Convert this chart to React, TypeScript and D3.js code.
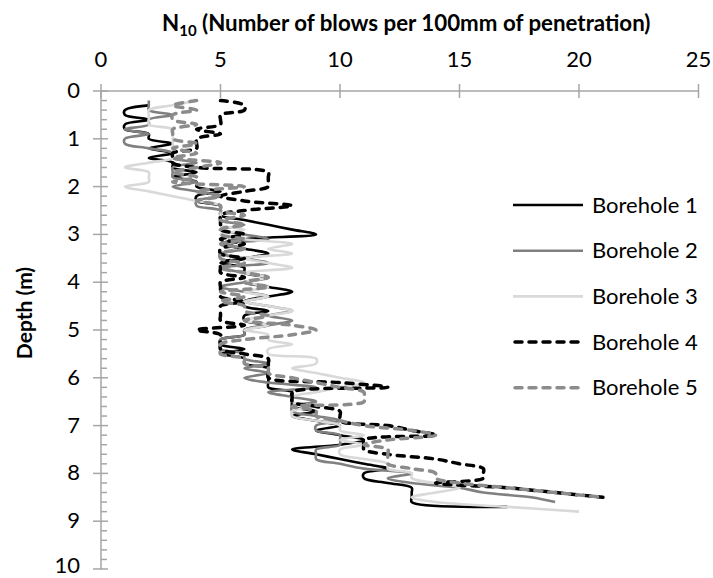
import React from 'react';
import * as d3 from 'd3';

const WIDTH = 713;
const HEIGHT = 578;

// Axis ticks
const xTickValues = [0, 5, 10, 15, 20, 25];
const yTickValues = [0, 1, 2, 3, 4, 5, 6, 7, 8, 9, 10];

// N10 readings, one per 100 mm of penetration
const DEPTH_STEP = 0.1;

const borehole1Start = 0.3;
const borehole1 = [
  2, 1, 1, 2, 1, 1, 2, 2, 3, 2,
  3, 2, 3, 3, 4, 3, 4, 4, 5, 4,
  4, 5, 5, 5, 6, 7, 8, 9, 6, 5,
  6, 7, 6, 5, 6, 6, 7, 6, 7, 8,
  7, 6, 6, 7, 6, 6, 7, 6, 6, 5,
  5, 6, 5, 6, 6, 7, 7, 7, 7, 7,
  8, 8, 8, 8, 9, 8, 9, 10, 9, 10,
  11, 10, 8, 9, 10, 11, 12, 11, 11, 12,
  13, 13, 13, 13, 17,
];

const borehole2Start = 0.2;
const borehole2 = [
  2, 2, 2, 3, 2, 2, 1, 2, 1, 1,
  2, 3, 3, 4, 3, 3, 3, 4, 3, 4,
  5, 4, 4, 5, 5, 5, 6, 5, 6, 7,
  5, 6, 5, 6, 7, 5, 6, 7, 6, 5,
  6, 7, 6, 7, 8, 7, 8, 7, 6, 6,
  5, 5, 5, 6, 6, 7, 6, 7, 6, 7,
  9, 7, 8, 9, 8, 8, 9, 10, 9, 9,
  10, 10, 10, 9, 9, 9, 10, 11, 13, 12,
  13, 15, 16, 18, 19,
];

const borehole3Start = 0.2;
const borehole3 = [
  4, 3, 2, 2, 2, 2, 3, 3, 3, 3,
  3, 3, 3, 2, 1, 2, 2, 2, 1, 2,
  3, 4, 5, 5, 5, 5, 5, 6, 5, 6,
  8, 7, 8, 6, 7, 8, 6, 7, 6, 7,
  6, 7, 6, 7, 8, 7, 6, 7, 6, 7,
  7, 8, 7, 7, 9, 9, 8, 9, 10, 11,
  10, 9, 8, 8, 9, 8, 8, 9, 10, 10,
  11, 10, 11, 10, 10, 11, 12, 12, 13, 13,
  14, 15, 14, 13, 14, 17, 20,
];

const borehole4Start = 0.2;
const borehole4 = [
  5, 6, 6, 5, 5, 5, 4, 5, 4, 4,
  4, 3, 3, 3, 4, 7, 7, 7, 7, 6,
  5, 6, 8, 6, 5, 5, 5, 5, 6, 5,
  6, 5, 5, 6, 5, 5, 5, 6, 5, 5,
  5, 5, 6, 5, 5, 5, 5, 6, 4, 5,
  5, 5, 5, 6, 7, 7, 7, 7, 7, 10,
  12, 8, 8, 8, 9, 10, 10, 10, 12, 13,
  14, 11, 11, 11, 12, 14, 15, 16, 16, 16,
  14, 17, 19, 21,
];

const borehole5Start = 0.2;
const borehole5 = [
  4, 3, 4, 3, 3, 4, 3, 3, 3, 4,
  3, 4, 3, 5, 4, 3, 4, 3, 6, 4,
  5, 4, 5, 5, 6, 5, 6, 5, 5, 6,
  5, 6, 5, 5, 6, 5, 6, 7, 6, 7,
  5, 6, 5, 6, 6, 7, 6, 8, 9, 8,
  6, 5, 5, 5, 6, 6, 7, 7, 8, 9,
  10, 11, 11, 11, 8, 9, 9, 10, 11, 13,
  14, 12, 11, 12, 12, 12, 12, 13, 14, 14,
  15, 17, 19, 21,
];

const seriesNames = ['Borehole 1', 'Borehole 2', 'Borehole 3', 'Borehole 4', 'Borehole 5'];
const seriesStarts = [borehole1Start, borehole2Start, borehole3Start, borehole4Start, borehole5Start];
const seriesValues = [borehole1, borehole2, borehole3, borehole4, borehole5];

type LineStyle = { color: string; width: number; dash?: string };
const lineStyles: LineStyle[] = [
  { color: '#000000', width: 2.6 },
  { color: '#808080', width: 2.6 },
  { color: '#d9d9d9', width: 2.6 },
  { color: '#000000', width: 3.5, dash: '7 7' },
  { color: '#8c8c8c', width: 3.5, dash: '7 7' },
];

const FONT = 'Lato, "Open Sans", sans-serif';
const AXIS_COLOR = '#a6a6a6';

export default function App() {
  const x = d3.scaleLinear().domain([0, 25]).range([101, 698.5]);
  const y = d3.scaleLinear().domain([0, 10]).range([91, 569]);

  const series = seriesNames.map((name, i) => ({
    name,
    style: lineStyles[i],
    points: seriesValues[i].map((v, j) => ({
      depth: +(seriesStarts[i] + j * DEPTH_STEP).toFixed(2),
      value: v,
    })),
  }));

  const line = d3
    .line<{ depth: number; value: number }>()
    .x((p) => x(p.value))
    .y((p) => y(p.depth))
    .curve(d3.curveCatmullRom.alpha(0.5));

  const minorTicks = d3.range(0, 10.0001, 0.2).filter((t) => Math.abs(t - Math.round(t)) > 1e-6);

  const legendX0 = 513;
  const legendX1 = 583;
  const legendY0 = 205;
  const legendStep = 45.7;

  return (
    <svg
      width={WIDTH}
      height={HEIGHT}
      style={{ position: 'absolute', left: 0, top: 0, background: '#ffffff' }}
      fontFamily={FONT}
    >
      <rect x={0} y={0} width={WIDTH} height={HEIGHT} fill="#ffffff" />

      {/* Title */}
      <text x={162} y={31} textAnchor="start" fontSize={22.3} fontWeight="bold" fill="#000">
        N<tspan fontSize={15} dy={5}>10</tspan>
        <tspan dy={-5}> (Number of blows per 100mm of penetration)</tspan>
      </text>

      {/* Depth axis title */}
      <text
        transform={`translate(32, 313) rotate(-90)`}
        textAnchor="middle"
        fontSize={21}
        fontWeight="bold"
        fill="#000"
      >
        Depth (m)
      </text>

      {/* X axis (top) */}
      <line x1={x(0)} x2={x(25)} y1={y(0)} y2={y(0)} stroke={AXIS_COLOR} strokeWidth={1.5} />
      {xTickValues.map((t) => (
        <g key={`xt${t}`}>
          <line x1={x(t)} x2={x(t)} y1={y(0) - 7} y2={y(0) + 7} stroke={AXIS_COLOR} strokeWidth={1.5} />
          <text x={x(t)} y={67} textAnchor="middle" fontSize={22} fill="#000">
            {t}
          </text>
        </g>
      ))}

      {/* Y axis (left) */}
      <line x1={x(0)} x2={x(0)} y1={y(0)} y2={y(10)} stroke={AXIS_COLOR} strokeWidth={1.5} />
      {minorTicks.map((t) => (
        <line key={`ym${t}`} x1={x(0)} x2={x(0) + 6} y1={y(t)} y2={y(t)} stroke={AXIS_COLOR} strokeWidth={1.5} />
      ))}
      {yTickValues.map((t) => (
        <g key={`yt${t}`}>
          <line x1={x(0) - 8} x2={x(0) + 7} y1={y(t)} y2={y(t)} stroke={AXIS_COLOR} strokeWidth={1.5} />
          <text x={80} y={Math.min(y(t) + 7, HEIGHT - 5)} textAnchor="end" fontSize={22} fill="#000">
            {t}
          </text>
        </g>
      ))}

      {/* Borehole profiles */}
      {series.map((s) => (
        <path
          key={s.name}
          d={line(s.points) || ''}
          fill="none"
          stroke={s.style.color}
          strokeWidth={s.style.width}
          strokeDasharray={s.style.dash}
          strokeLinecap={s.style.dash ? 'round' : 'butt'}
          strokeLinejoin="round"
        />
      ))}

      {/* Legend */}
      {series.map((s, i) => {
        const ly = legendY0 + i * legendStep;
        return (
          <g key={`lg${s.name}`}>
            <line
              x1={legendX0 + (s.style.dash ? 2 : 0)}
              x2={legendX1}
              y1={ly}
              y2={ly}
              stroke={s.style.color}
              strokeWidth={s.style.width}
              strokeDasharray={s.style.dash}
              strokeLinecap={s.style.dash ? 'round' : 'butt'}
            />
            <text x={592} y={ly + 7.5} fontSize={22} fill="#000">
              {s.name}
            </text>
          </g>
        );
      })}
    </svg>
  );
}
